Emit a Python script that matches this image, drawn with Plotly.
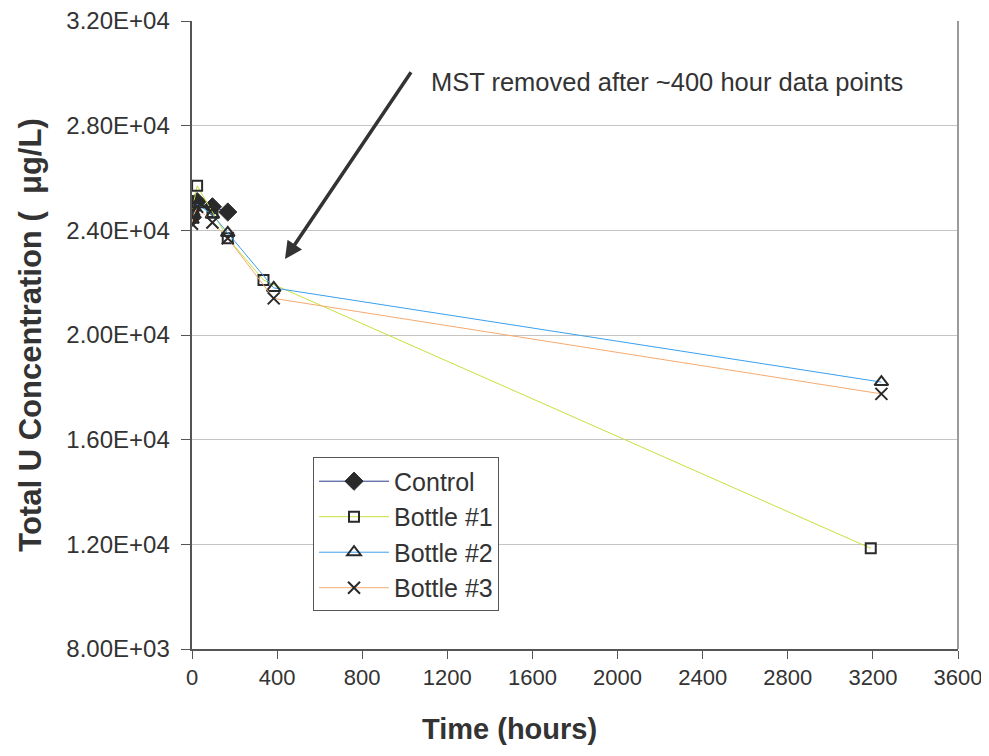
import plotly.graph_objects as go

# Data (time in hours, total U concentration in µg/L)
control_t = [0, 2, 4, 24, 96, 168]
control_v = [24800, 24500, 25000, 25100, 24900, 24700]

b1_t = [0, 4, 24, 96, 168, 336, 3190]
b1_v = [24600, 24900, 25700, 24700, 23700, 22100, 11850]

b2_t = [0, 4, 24, 96, 168, 384, 3240]
b2_v = [24400, 24700, 25000, 24600, 23900, 21800, 18200]

b3_t = [0, 4, 24, 96, 168, 384, 3240]
b3_v = [24250, 24500, 24900, 24300, 23700, 21400, 17750]

y_ticks = [8000, 12000, 16000, 20000, 24000, 28000, 32000]
y_labels = ["8.00E+03", "1.20E+04", "1.60E+04", "2.00E+04", "2.40E+04", "2.80E+04", "3.20E+04"]
x_ticks = [0, 400, 800, 1200, 1600, 2000, 2400, 2800, 3200, 3600]

mk = "#2a2a2a"
fig = go.Figure()
fig.add_trace(go.Scatter(x=control_t, y=control_v, name="Control", mode="lines+markers",
                         legendgroup="c",
                         line=dict(color="#2b3a8f", width=1),
                         marker=dict(symbol="diamond", size=14, color=mk, line=dict(color=mk, width=1))))
fig.add_trace(go.Scatter(x=b1_t, y=b1_v, name="Bottle #1", mode="lines+markers",
                         legendgroup="b1",
                         line=dict(color="#c8e03c", width=1),
                         marker=dict(symbol="square-open", size=10, color=mk, line=dict(color=mk, width=2))))
fig.add_trace(go.Scatter(x=b2_t, y=b2_v, name="Bottle #2", mode="lines+markers",
                         legendgroup="b2",
                         line=dict(color="#3aa0ee", width=1),
                         marker=dict(symbol="triangle-up-open", size=12, color=mk, line=dict(color=mk, width=2))))
fig.add_trace(go.Scatter(x=b3_t, y=b3_v, name="Bottle #3", mode="lines+markers",
                         legendgroup="b3",
                         line=dict(color="#f5aa70", width=1),
                         marker=dict(symbol="x-thin", size=12, color=mk, line=dict(color=mk, width=2))))

font_family = "Liberation Sans, Arial, sans-serif"

fig.update_layout(
    width=973, height=740,
    margin=dict(l=184, r=23, t=13, b=99, autoexpand=False),
    paper_bgcolor="white", plot_bgcolor="white",
    font=dict(family=font_family, color="#333333", size=20),
    showlegend=True,
    legend=dict(x=0.158, y=0.305, xanchor="left", yanchor="top",
                bordercolor="#555555", borderwidth=1, bgcolor="white",
                font=dict(size=25, color="#333333"), tracegroupgap=0,
                traceorder="grouped", itemwidth=70),
    xaxis=dict(range=[0, 3600], tickvals=x_ticks, ticks="outside", ticklen=8,
               tickcolor="#555555", showline=True, linecolor="#555555", linewidth=1.5,
               showgrid=False, zeroline=False, tickfont=dict(size=22, color="#333333"),
               ticklabeloverflow="allow", automargin=False),
    yaxis=dict(range=[8000, 32000], tickvals=y_ticks, ticktext=[s + " " for s in y_labels],
               ticks="outside", ticklen=9, automargin=False,
               tickcolor="#555555", showline=True, linecolor="#555555", linewidth=1.5,
               showgrid=True, gridcolor="#c4c4c4", gridwidth=1, zeroline=False,
               tickfont=dict(size=24, color="#333333"), ticklabeloverflow="allow",
               title=dict(text="<b>Total U Concentration (  \u03bcg/L)</b>", font=dict(size=31, color="#333333"))),
)

# x-axis title (offset left of centre as in the original)
fig.add_annotation(x=0.415, y=-0.127, xref="paper", yref="paper", xanchor="center", yanchor="middle",
                   text="<b>Time (hours)</b>", showarrow=False, font=dict(size=29, color="#333333"))

# right plot-area border
fig.add_shape(type="line", xref="paper", yref="paper", x0=1, x1=1, y0=0, y1=1,
              line=dict(color="#9a9a9a", width=2))

fig.add_annotation(x=437, y=22900, ax=1034, ay=30100, axref="x", ayref="y", xref="x", yref="y",
                   text="", showarrow=True, arrowhead=2, arrowsize=1, arrowwidth=3.5, arrowcolor="#333333")
fig.add_annotation(x=1115, y=29680, xref="x", yref="y", xanchor="left", yanchor="middle",
                   text="MST removed after ~400 hour data points", showarrow=False,
                   font=dict(size=25.5, color="#333333"))

fig.write_html("out.html")
